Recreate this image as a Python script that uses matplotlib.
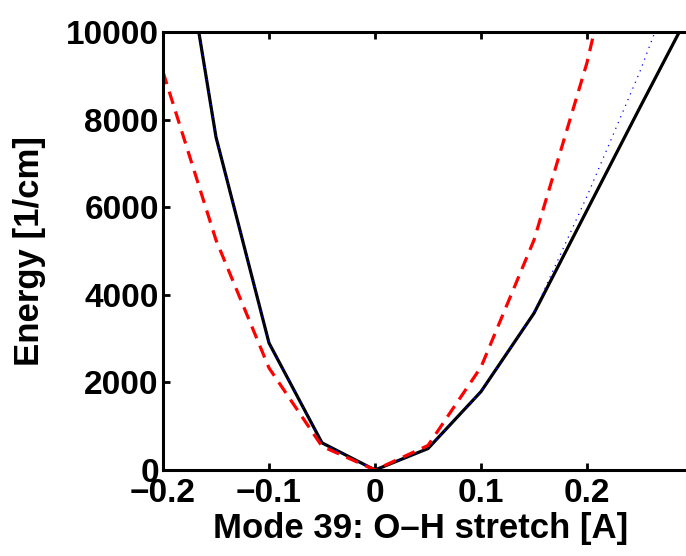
import numpy as np
import matplotlib
matplotlib.use('Agg')
from matplotlib import pyplot as plt

# displacement along the mode [A]
x = [-0.2, -0.15, -0.1, -0.05, 0.0, 0.05, 0.1, 0.15, 0.2, 0.25, 0.3]
# energies [1/cm]
e_black = [15000, 7600, 2900, 620, 0, 490, 1790, 3580, 5930, 8280, 10600]
e_blue = [15000, 7600, 2900, 620, 0, 490, 1790, 3600, 6250, 9100, 12300]
e_red = [9090, 5250, 2330, 540, 0, 560, 2350, 5250, 9300, 14500, 20500]

xticks = [-0.2, -0.1, 0, 0.1, 0.2]
xticklabels = ['\u22120.2', '\u22120.1', '0', '0.1', '0.2']
yticks = [0, 2000, 4000, 6000, 8000, 10000]

plt.rcParams['font.family'] = ['Liberation Sans', 'DejaVu Sans']
plt.rcParams['font.weight'] = 'bold'

W, H = 686, 556
fig = plt.figure(figsize=(W/100, H/100), dpi=100)
# axes spills past the right edge of the figure, like the cropped original
left, bottom = 163, 86
ax_w = 0.55 * 1060
ax = fig.add_axes([left/W, bottom/H, ax_w/W, 438/H])

ax.plot(x, e_black, color='black', lw=2.3, solid_joinstyle='miter')
ax.plot(x, e_blue, color='blue', lw=0.9, linestyle=(0, (1, 4)))
ax.plot(x, e_red, color='red', lw=2.3, linestyle=(0, (4, 2.5)))

ax.set_xlim(-0.2, 0.35)
ax.set_ylim(0, 10000)
ax.set_xticks(xticks)
ax.set_xticklabels(xticklabels)
ax.set_yticks(yticks)
ax.tick_params(direction='in', length=5, width=2, top=True, right=True,
               labelsize=24)
ax.tick_params(axis='x', pad=6)
ax.tick_params(axis='y', pad=3)
for s in ax.spines.values():
    s.set_linewidth(2.2)

ax.set_xlabel('Mode 39: O\u2013H stretch [A]', fontsize=25, fontweight='bold')
ax.xaxis.set_label_coords(0.4425, -0.095)
ax.set_ylabel('Energy [1/cm]', fontsize=25, fontweight='bold', labelpad=14)

fig.savefig('out.png', dpi=100)
